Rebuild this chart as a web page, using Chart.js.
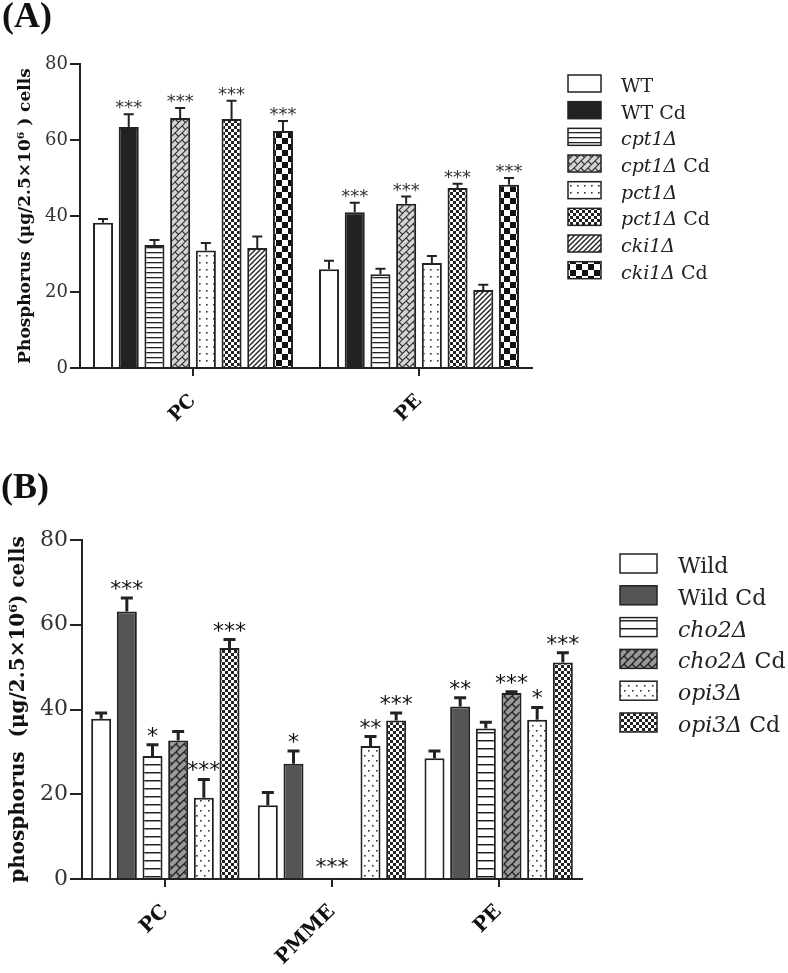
<!DOCTYPE html>
<html><head><meta charset="utf-8">
<script src="https://cdn.jsdelivr.net/npm/chart.js@4.4.1/dist/chart.umd.min.js"></script>
<style>
html,body{margin:0;padding:0;background:#fff;}
#wrap{position:relative;width:788px;height:973px;overflow:hidden;background:#fff;}
canvas{position:absolute;left:0;}
#cA{top:0;width:788px;height:440px;}
#cB{top:440px;width:788px;height:533px;}
.panel{position:absolute;font-family:'Liberation Serif',serif;font-weight:bold;font-size:36px;line-height:1;color:#111;}
</style></head><body>
<div id="wrap">
<canvas id="cA" width="788" height="440"></canvas>
<canvas id="cB" width="788" height="533"></canvas>
<div class="panel" style="left:2px;top:-3px">(A)</div>
<div class="panel" style="left:1px;top:468px">(B)</div>
</div>
<script>
// ---------- Panel A data ----------
const A_CATEGORIES = ['PC', 'PE'];
const A_SERIES = ['WT', 'WT Cd', 'cpt1Δ', 'cpt1Δ Cd', 'pct1Δ', 'pct1Δ Cd', 'cki1Δ', 'cki1Δ Cd'];
const A_MEANS = [[38.2, 26.0], [63.4, 41.0], [32.4, 24.7], [65.8, 43.2], [30.9, 27.6], [65.5, 47.4], [31.6, 20.5], [62.4, 48.2]];
const A_SD = [[1.0, 2.2], [3.4, 2.5], [1.3, 1.4], [2.6, 1.9], [2.0, 1.9], [4.8, 1.1], [3.0, 1.4], [2.6, 1.8]];
const A_STARS = [['', ''], ['***', '***'], ['', ''], ['***', '***'], ['', ''], ['***', '***'], ['', ''], ['***', '***']];
const A_Y_TICKS = [0, 20, 40, 60, 80];
const A_Y_TITLE = 'Phosphorus (μg/2.5×10⁶ ) cells';

// ---------- Panel B data ----------
const B_CATEGORIES = ['PC', 'PMME', 'PE'];
const B_SERIES = ['Wild', 'Wild Cd', 'cho2Δ', 'cho2Δ Cd', 'opi3Δ', 'opi3Δ Cd'];
const B_MEANS = [[37.8, 17.4, 28.5], [63.1, 27.2, 40.7], [29.0, 0.3, 35.5], [32.7, 0.3, 43.9], [19.2, 31.4, 37.6], [54.5, 37.4, 51.1]];
const B_SD = [[1.4, 3.0, 1.7], [3.2, 3.0, 2.1], [2.7, 0, 1.5], [2.1, 0, 0.3], [4.3, 2.2, 2.9], [2.0, 1.8, 2.3]];
const B_STARS = [['', '', ''], ['***', '*', '**'], ['*', '', ''], ['', '', '***'], ['***', '**', '*'], ['***', '***', '***']];
const B_SPAN_STARS = [{ category: 1, from: 2, to: 3, text: '***' }];
const B_Y_TICKS = [0, 20, 40, 60, 80];
const B_Y_TITLE = 'phosphorus  (μg/2.5×10⁶) cells';

// ---------- styles ----------
const A_STYLE = { padTop: 64, padRight: 256, yWidth: 80, xHeight: 72, tickFont: 18, tickLen: 10, xTickFont: 19, xTickPad: 14,
  titleFont: 17, titlePad: 15, catPct: 0.91, barPct: 0.78, border: 2, errW: 2, capHalf: 5,
  starFont: 18, starGap: 1, starColor: '#333',
  legend: { x: 568, y: 75, pitch: 26.67, w: 33, h: 17, textX: 621, font: 19 } };
const B_STYLE = { padTop: 100, padRight: 206, yWidth: 82, xHeight: 94, tickFont: 22, tickLen: 12, xTickFont: 20, xTickPad: 13,
  titleFont: 20, titlePad: 7, catPct: 0.924, barPct: 0.78, border: 2, errW: 3, capHalf: 6,
  starFont: 22, starGap: 2, starColor: '#111',
  legend: { x: 620, y: 114, pitch: 31.8, w: 37, h: 19, textX: 678, font: 22 } };

// ---------- patterns ----------
function makePattern(ctx, w, h, bg, draw) {
  const c = document.createElement('canvas'); c.width = w; c.height = h;
  const g = c.getContext('2d');
  g.fillStyle = bg; g.fillRect(0, 0, w, h);
  g.fillStyle = '#222'; g.strokeStyle = '#222';
  draw(g, w, h);
  return ctx.createPattern(c, 'repeat');
}
function wrapStroke(g, s, segs, lw, color) {
  g.strokeStyle = color; g.lineWidth = lw; g.lineCap = 'butt';
  for (const dx of [-s, 0, s]) for (const dy of [-s, 0, s]) {
    g.beginPath();
    for (const [x1, y1, x2, y2] of segs) { g.moveTo(x1 + dx, y1 + dy); g.lineTo(x2 + dx, y2 + dy); }
    g.stroke();
  }
}
const P = {
  hlines: (ctx, gap, lw) => makePattern(ctx, gap, gap, '#fff', g => { g.fillRect(0, Math.floor(gap / 2), gap, lw); }),
  dots: (ctx, w, h, stagger, d) => makePattern(ctx, w, h, '#fff', g => {
    g.fillStyle = '#333';
    g.fillRect(Math.floor(w / 2), Math.floor(h / 2), d, d);
    if (stagger) g.fillRect(0, 0, d, d);
  }),
  checker: (ctx, s, color) => makePattern(ctx, 2 * s, 2 * s, '#fff', g => {
    g.fillStyle = color; g.fillRect(0, 0, s, s); g.fillRect(s, s, s, s);
  }),
  diag: (ctx, s, lw) => makePattern(ctx, s, s, '#fff', g => wrapStroke(g, s, [[0, s, s, 0]], lw, '#222')),
  brick: (ctx, s, bg, fg, lw) => makePattern(ctx, s, s, bg, g => wrapStroke(g, s, [[0, s, s, 0], [0, 0, s / 2, s / 2]], lw, fg))
};

function overlayPlugin(means, sd, stars, spans, series, fills, st) {
  return {
    id: 'overlay',
    afterDatasetsDraw(chart) {
      const ctx = chart.ctx, y = chart.scales.y;
      ctx.save();
      ctx.font = st.starFont + 'px "DejaVu Sans"';
      ctx.textAlign = 'center'; ctx.textBaseline = 'alphabetic';
      means.forEach((row, i) => {
        const meta = chart.getDatasetMeta(i);
        row.forEach((m, j) => {
          const bar = meta.data[j];
          const s = sd[i][j];
          const top = y.getPixelForValue(m + s);
          if (s > 0) {
            ctx.strokeStyle = '#222'; ctx.lineWidth = st.errW;
            ctx.beginPath();
            ctx.moveTo(bar.x, bar.y); ctx.lineTo(bar.x, top);
            ctx.moveTo(bar.x - st.capHalf, top); ctx.lineTo(bar.x + st.capHalf, top);
            ctx.stroke();
          }
          const t = stars[i][j];
          if (t) { ctx.fillStyle = st.starColor; ctx.fillText(t, bar.x, top - st.starGap); }
        });
      });
      spans.forEach(sp => {
        const a = chart.getDatasetMeta(sp.from).data[sp.category];
        const b = chart.getDatasetMeta(sp.to).data[sp.category];
        const v = Math.max(means[sp.from][sp.category] + sd[sp.from][sp.category], means[sp.to][sp.category] + sd[sp.to][sp.category]);
        ctx.fillStyle = st.starColor;
        ctx.fillText(sp.text, (a.x + b.x) / 2, y.getPixelForValue(v) - st.starGap - 2);
      });
      ctx.restore();
    },
    afterDraw(chart) {
      const ctx = chart.ctx, lg = st.legend;
      ctx.save();
      series.forEach((label, i) => {
        const top = lg.y + i * lg.pitch;
        ctx.fillStyle = fills[i];
        ctx.fillRect(lg.x, top, lg.w, lg.h);
        ctx.strokeStyle = '#222'; ctx.lineWidth = 1.5;
        ctx.strokeRect(lg.x, top, lg.w, lg.h);
        const base = top + lg.h;
        ctx.fillStyle = '#222'; ctx.textAlign = 'left'; ctx.textBaseline = 'alphabetic';
        if (label.includes('Δ')) {
          const it = label.replace(' Cd', '');
          const rest = label.endsWith(' Cd') ? ' Cd' : '';
          ctx.font = 'italic ' + lg.font + 'px "DejaVu Serif"';
          ctx.fillText(it, lg.textX, base);
          const w = ctx.measureText(it).width;
          ctx.font = lg.font + 'px "DejaVu Serif"';
          ctx.fillText(rest, lg.textX + w, base);
        } else {
          ctx.font = lg.font + 'px "DejaVu Serif"';
          ctx.fillText(label, lg.textX, base);
        }
      });
      ctx.restore();
    }
  };
}

function buildChart(id, cats, series, means, sd, stars, spans, yTicks, yTitle, fills, st) {
  const canvas = document.getElementById(id);
  return new Chart(canvas, {
    type: 'bar',
    data: {
      labels: cats,
      datasets: series.map((s, i) => ({
        label: s, data: means[i], backgroundColor: fills[i], borderColor: '#222', borderWidth: st.border,
        categoryPercentage: st.catPct, barPercentage: st.barPct
      }))
    },
    options: {
      responsive: false, animation: false, devicePixelRatio: 1,
      layout: { padding: { top: st.padTop, right: st.padRight, bottom: 0, left: 0 } },
      plugins: { legend: { display: false }, tooltip: { enabled: false } },
      scales: {
        x: {
          offset: true,
          grid: { offset: false, display: true, drawOnChartArea: false, drawTicks: true, tickLength: 8, color: '#222', lineWidth: 2 },
          border: { display: true, color: '#222', width: 2 },
          ticks: { minRotation: 45, maxRotation: 45, autoSkip: false, padding: st.xTickPad, color: '#111',
            font: { family: 'DejaVu Serif', weight: 'bold', size: st.xTickFont } },
          afterFit(s) { s.height = st.xHeight; }
        },
        y: {
          min: yTicks[0], max: yTicks[yTicks.length - 1],
          afterBuildTicks(s) { s.ticks = yTicks.map(v => ({ value: v })); },
          grid: { drawOnChartArea: false, drawTicks: true, tickLength: st.tickLen, color: '#222', lineWidth: 2 },
          border: { display: true, color: '#222', width: 2 },
          ticks: { padding: 2, color: '#333', font: { family: 'DejaVu Serif', size: st.tickFont } },
          title: { display: true, text: yTitle, color: '#111',
            font: { family: 'DejaVu Serif', weight: 'bold', size: st.titleFont }, padding: { top: st.titlePad, bottom: 0 } },
          afterFit(s) { s.width = st.yWidth; }
        }
      }
    },
    plugins: [overlayPlugin(means, sd, stars, spans, series, fills, st)]
  });
}

const ctxA = document.getElementById('cA').getContext('2d');
const A_FILLS = [
  '#ffffff',
  '#222222',
  P.hlines(ctxA, 5, 1.3),
  P.brick(ctxA, 7, '#d4d4d4', '#333', 1.2),
  P.dots(ctxA, 7, 7, false, 1.6),
  P.checker(ctxA, 3, '#222'),
  P.diag(ctxA, 5, 1.4),
  P.checker(ctxA, 6, '#111')
];
const ctxB = document.getElementById('cB').getContext('2d');
const B_FILLS = [
  '#ffffff',
  '#555555',
  P.hlines(ctxB, 8, 1.5),
  P.brick(ctxB, 8, '#9a9a9a', '#222', 1.4),
  P.dots(ctxB, 8, 10, true, 1.6),
  P.checker(ctxB, 3, '#222')
];

buildChart('cA', A_CATEGORIES, A_SERIES, A_MEANS, A_SD, A_STARS, [], A_Y_TICKS, A_Y_TITLE, A_FILLS, A_STYLE);
buildChart('cB', B_CATEGORIES, B_SERIES, B_MEANS, B_SD, B_STARS, B_SPAN_STARS, B_Y_TICKS, B_Y_TITLE, B_FILLS, B_STYLE);
</script>
</body></html>
